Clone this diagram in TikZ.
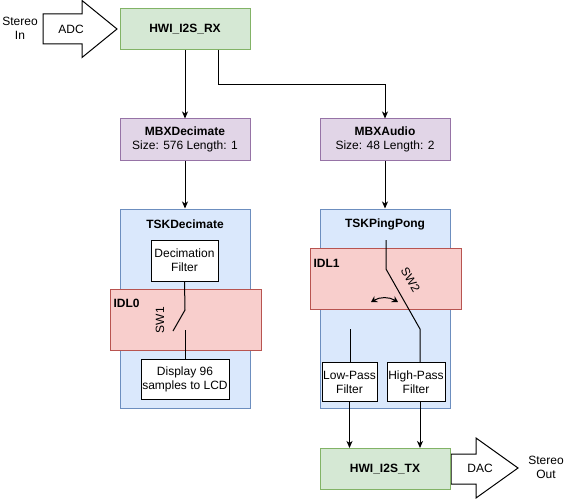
\documentclass[tikz,border=0pt]{standalone}
\usepackage{fontspec}
\setmainfont{Liberation Sans}
\usetikzlibrary{arrows.meta}
\definecolor{gfill}{HTML}{D5E8D4}\definecolor{gline}{HTML}{82B366}
\definecolor{pfill}{HTML}{E1D5E7}\definecolor{pline}{HTML}{9673A6}
\definecolor{bfill}{HTML}{DAE8FC}\definecolor{bline}{HTML}{6C8EBF}
\definecolor{rfill}{HTML}{F8CECC}\definecolor{rline}{HTML}{B85450}
\begin{document}
\begin{tikzpicture}[x=1pt,y=-1pt,line width=1pt,
  every node/.style={font=\fontsize{12}{14}\selectfont, align=center, inner sep=0pt},
  hwbox/.style={draw=gline, fill=gfill, minimum width=130pt, minimum height=41pt, font=\fontsize{12}{14}\selectfont\bfseries},
  mbxbox/.style={draw=pline, fill=pfill, minimum width=130pt, minimum height=41pt},
  tskbox/.style={draw=bline, fill=bfill, minimum width=130pt, minimum height=199pt},
  idlbox/.style={draw=rline, fill=rfill, minimum width=151pt, minimum height=61pt},
  wbox/.style={draw=black, fill=white, minimum height=40pt},
  arr/.style={-{Stealth[length=7pt,width=6pt,inset=2pt]}, line width=1pt},
  bigarrow/.style={draw=black, fill=white, line width=1pt, line join=miter},
  lbl/.style={font=\fontsize{12}{14}\selectfont\bfseries, anchor=west}
]
\useasboundingbox (0,0) rectangle (570,500);

% input arrow
\draw[bigarrow] (43,14) -- (82,14) -- (82,0.5) -- (117,29) -- (82,57.5) -- (82,44) -- (43,44) -- cycle;
\node (adc) at (71,29) {ADC};
\node (sin) at (20,28) {Stereo\\In};

% output arrow
\draw[bigarrow] (451,454) -- (476,454) -- (476,438) -- (518,468) -- (476,498) -- (476,484) -- (451,484) -- cycle;
\node (dac) at (480,468) {DAC};
\node (sout) at (546,467) {Stereo\\Out};

% top row
\node[hwbox] (rx) at (185,29.5) {HWI\_I2S\_RX};
\node[mbxbox] (mbxd) at (185,139.5) {\textbf{MBXDecimate}\\Size: 576 Length: 1};
\node[mbxbox] (mbxa) at (385,139.5) {\textbf{MBXAudio}\\Size: 48 Length: 2};

% tasks
\node[tskbox] (tskd) at (185,308.5) {};
\node[tskbox] (tskp) at (385,308.5) {};
\node[font=\fontsize{12}{14}\selectfont\bfseries] (tskdl) at (185,224) {TSKDecimate};
\node[font=\fontsize{12}{14}\selectfont\bfseries] (tskpl) at (385,224) {TSKPingPong};

% TSKDecimate internals
\node[wbox, minimum width=67pt, minimum height=41pt] (decf) at (184.5,260.5) {Decimation\\Filter};
\node[idlbox] (idl0) at (185.5,319.5) {};
\node[lbl] (idl0l) at (113,303) {IDL0};
\node[wbox, minimum width=88pt, minimum height=40pt] (disp) at (185,379) {Display 96\\samples to LCD};
\coordinate (s1a) at (185,310);
\coordinate (s1b) at (173,331);
\coordinate (s1c) at (185,330);
\draw (decf.south) -- (s1a) -- (s1b);
\draw (s1c) -- (disp.north);
\node[rotate=90] (sw1) at (160,320) {SW1};

% TSKPingPong internals
\node[idlbox] (idl1) at (385.5,279) {};
\node[lbl] (idl1l) at (313,263) {IDL1};
\node[wbox, minimum width=55pt, minimum height=39pt] (lpf) at (349.5,382) {Low-Pass\\Filter};
\node[wbox, minimum width=58pt, minimum height=39pt] (hpf) at (416,382) {High-Pass\\Filter};
\coordinate (s2top) at (386,240);
\coordinate (s2a) at (386,269);
\coordinate (s2b) at (420,329);
\coordinate (s2l) at (350,329);
\draw (s2top) -- (s2a) -- (s2b) -- (s2b |- hpf.north);
\draw (s2l) -- (s2l |- lpf.north);
\node[rotate=-60] (sw2) at (410.5,279.5) {SW2};
\coordinate (ca) at (371,302);
\coordinate (cb) at (398,302);
\draw[{Stealth[length=6pt,width=7pt,inset=2pt]}-{Stealth[length=6pt,width=7pt,inset=2pt]}, line width=1pt] (ca) to[bend left=30] (cb);

% output
\node[hwbox] (tx) at (385,469) {HWI\_I2S\_TX};

% connectors
\draw[arr] (rx.south) -- (mbxd.north);
\coordinate (rxb) at (218,50);
\draw[arr] (rxb) -- (218,84.5) -| (mbxa.north);
\draw[arr] (mbxd.south) -- (tskd.north);
\draw[arr] (mbxa.south) -- (tskp.north);
\draw[arr] (lpf.south) -- (lpf.south |- tx.north);
\draw[arr] (s2b |- hpf.south) -- (s2b |- tx.north);
\end{tikzpicture}
\end{document}
